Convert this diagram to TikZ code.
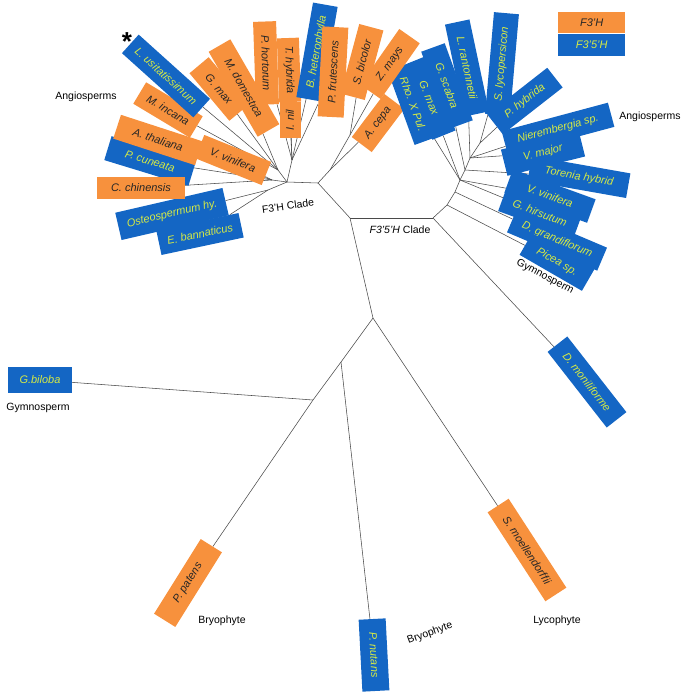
\documentclass[tikz,border=0pt]{standalone}
\usepackage{fontspec}
\setmainfont{Liberation Sans}
\usetikzlibrary{positioning,backgrounds}

\definecolor{fthreeorange}{HTML}{F7913D}
\definecolor{ffiveblue}{HTML}{1466C4}
\definecolor{limetext}{HTML}{D6EA44}
\definecolor{branchgray}{HTML}{4A4A4A}

\begin{document}
\begin{tikzpicture}[
    x=1pt, y=-1pt,
    leaf/.style={rectangle, minimum height=25pt, inner xsep=3pt, inner ysep=2pt, font=\fontsize{11}{12}\selectfont\itshape},
    ohbox/.style={leaf, fill=fthreeorange, text=black!85},
    bhbox/.style={leaf, fill=ffiveblue, text=limetext},
    grouplabel/.style={font=\fontsize{10.5}{12}\selectfont, inner sep=1pt},
    branch/.style={draw=branchgray, line width=0.55pt}
  ]
  \useasboundingbox (0,0) rectangle (685,694);

  \node[ohbox, rotate=53, minimum width=54pt] (acep) at (378,123) {A. cepa};

  % F3'5'H clade
  \node[bhbox, rotate=-70, minimum width=78pt] (rhox) at (413,104) {Rho. X Pul.};
  \node[bhbox, rotate=-68, minimum width=80pt] (gmaxb) at (429,98) {G. max};
  \node[bhbox, rotate=-70, minimum width=82pt] (gsca) at (447,86) {G. scabra};
  \node[bhbox, rotate=-78, minimum width=94pt] (lran) at (467,68) {L. rantonnetii};
  \node[bhbox, rotate=85, minimum width=102pt] (slyc) at (502,64) {S. lycopersicon};
  \node[bhbox, rotate=38, minimum width=76pt] (phyb) at (525,101) {P. hybrida};
  \node[bhbox, rotate=14, minimum width=80pt, minimum height=27pt] (vmaj) at (543,153) {V. major};
  \node[bhbox, rotate=15, minimum width=110pt] (nier) at (558,129) {Nierembergia sp.};
  \node[bhbox, rotate=-10, minimum width=100pt] (tore) at (579,177) {Torenia hybrid};
  \node[bhbox, rotate=-20, minimum width=88pt] (vvinb) at (550,196) {V. vinifera};
  \node[bhbox, rotate=-20, minimum width=80pt] (ghir) at (540,213) {G. hirsutum};
  \node[bhbox, rotate=-23, minimum width=98pt] (dgra) at (557,240) {D. grandiflorum};
  \node[bhbox, rotate=-30, minimum width=72pt] (pice) at (557,262) {Picea sp.};
  \node[bhbox, rotate=-52, minimum width=96pt] (dmon) at (587,382) {D. moniliforme};

  % F3'H clade, left fan
  \node[bhbox, rotate=13, minimum width=110pt, minimum height=28pt] (oste) at (172,214) {Osteospermum hy.};
  \node[bhbox, rotate=12, minimum width=84pt] (eban) at (200,234) {E. bannaticus};
  \node[bhbox, rotate=-17, minimum width=88pt] (pcun) at (150,161) {P. cuneata};
  \node[ohbox, minimum width=88pt, minimum height=22pt] (cchi) at (141,188) {C. chinensis};
  \node[ohbox, rotate=-18, minimum width=86pt] (atha) at (158,140) {A. thaliana};
  \node[ohbox, rotate=-22, minimum width=72pt] (vvina) at (233,160) {V. vinifera};
  \node[ohbox, rotate=-31, minimum width=66pt] (minc) at (168,110) {M. incana};
  \node[ohbox, rotate=-50, minimum width=62pt] (gmaxa) at (219,89) {G. max};
  \node[bhbox, rotate=-42, minimum width=96pt] (lusi) at (166,76) {L. usitatissimum};
  \node[ohbox, rotate=-60, minimum width=98pt] (mdom) at (244,88) {M. domestica};
  \node[ohbox, rotate=-88, minimum width=83pt, minimum height=23pt] (phor) at (266,63) {P. hortorum};
  \node[ohbox, rotate=-88, minimum width=64pt, minimum height=22pt] (thyb) at (289,70) {T. hybrida};
  \node[ohbox, rotate=90, minimum width=36pt, minimum height=21pt] (inil) at (290,120) {I. nil};
  \node[bhbox, rotate=80, minimum width=96pt] (bhet) at (317,52) {B. heterophylla};
  \node[ohbox, rotate=87, minimum width=90pt, minimum height=26pt] (pfru) at (333,72) {P. frutescens};
  \node[ohbox, rotate=75, minimum width=72pt] (sbic) at (362,62) {S. bicolor};
  \node[ohbox, rotate=55, minimum width=68pt] (zmay) at (390,64) {Z. mays};

  % basal lineages
  \node[bhbox, minimum width=64pt, minimum height=26pt] (gbil) at (40,380) {G.biloba};
  \node[ohbox, rotate=58, minimum width=88pt] (ppat) at (188,583) {P. patens};
  \node[bhbox, rotate=-87, minimum width=72pt, minimum height=27pt] (pnut) at (374,655) {P. nutans};
  \node[ohbox, rotate=-57, minimum width=106pt] (smoe) at (527,550) {S. moellendorffii};

  % group labels
  \node[font=\fontsize{26}{26}\selectfont\bfseries] (star) at (127,42) {*};
  \node[grouplabel] (angl) at (86,97) {Angiosperms};
  \node[grouplabel] (angr) at (650,117) {Angiosperms};
  \node[grouplabel, rotate=-28] (gymr) at (545,277) {Gymnosperm};
  \node[grouplabel] (gyml) at (38,408) {Gymnosperm};
  \node[grouplabel] (bryl) at (222,621) {Bryophyte};
  \node[grouplabel, rotate=20] (bryr) at (430,633) {Bryophyte};
  \node[grouplabel] (lyco) at (557,621) {Lycophyte};
  \node[grouplabel, rotate=8] (fthc) at (288,206) {F3'H Clade};
  \node[grouplabel] (ffvc) at (400,230) {\textit{F3'5'H} Clade};

  % legend
  \node[ohbox, minimum width=67pt, minimum height=21pt, anchor=north west] (legoh) at (558,12) {F3'H};
  \node[bhbox, minimum width=67pt, minimum height=22pt, below=0pt of legoh] (legbh) {F3'5'H};

  % internal nodes
  \coordinate (rt) at (373,318);
  \coordinate (nb) at (341,362);
  \coordinate (nd) at (313,400);
  \coordinate (c1) at (350,218);
  \coordinate (c2) at (433,218);
  \coordinate (h0) at (318,183);
  \coordinate (h1) at (287,182);
  \coordinate (fo) at (268,190);
  \coordinate (fl) at (272,180);
  \coordinate (fm) at (278,170);
  \coordinate (fh) at (292,160);
  \coordinate (u1) at (330,170);
  \coordinate (u2) at (350,135);
  \coordinate (n1) at (447,205);
  \coordinate (n2) at (455,192);
  \coordinate (n3) at (460,180);
  \coordinate (n4) at (465,170);
  \coordinate (n5) at (470,158);
  \coordinate (n6) at (480,143);

  \begin{pgfonlayer}{background}
    \draw[branch] (rt) -- (c1) -- (h0) -- (h1);
    \draw[branch] (c1) -- (c2);
    \draw[branch] (rt) -- (nb) -- (nd) -- (ppat);
    \draw[branch] (nd) -- (gbil);
    \draw[branch] (nb) -- (pnut);
    \draw[branch] (rt) -- (smoe);
    \draw[branch] (c2) -- (dmon);
    % F3'H
    \foreach \k in {fo,fl,fm,fh} \draw[branch] (h1) -- (\k);
    \foreach \k in {oste,eban} \draw[branch] (fo) -- (\k);
    \foreach \k in {cchi,pcun,atha,vvina} \draw[branch] (fl) -- (\k);
    \foreach \k in {minc,lusi,gmaxa,mdom} \draw[branch] (fm) -- (\k);
    \foreach \k in {phor,thyb,inil,bhet,pfru} \draw[branch] (fh) -- (\k);
    \draw[branch] (h0) -- (u1) -- (u2);
    \draw[branch] (u1) -- (acep);
    \draw[branch] (u2) -- (sbic);
    \draw[branch] (u2) -- (zmay);
    % F3'5'H
    \draw[branch] (c2) -- (n1) -- (n2) -- (n3) -- (n4) -- (n5) -- (n6);
    \draw[branch] (n1) -- (pice);
    \draw[branch] (n2) -- (dgra);
    \draw[branch] (n3) -- (ghir);
    \draw[branch] (n3) -- (vvinb);
    \draw[branch] (n3) -- (rhox);
    \draw[branch] (n3) -- (gmaxb);
    \draw[branch] (n4) -- (tore);
    \draw[branch] (n4) -- (gsca);
    \draw[branch] (n5) -- (vmaj);
    \draw[branch] (n5) -- (nier);
    \draw[branch] (n5) -- (lran);
    \draw[branch] (n6) -- (phyb);
    \draw[branch] (n6) -- (slyc);
  \end{pgfonlayer}
\end{tikzpicture}
\end{document}
